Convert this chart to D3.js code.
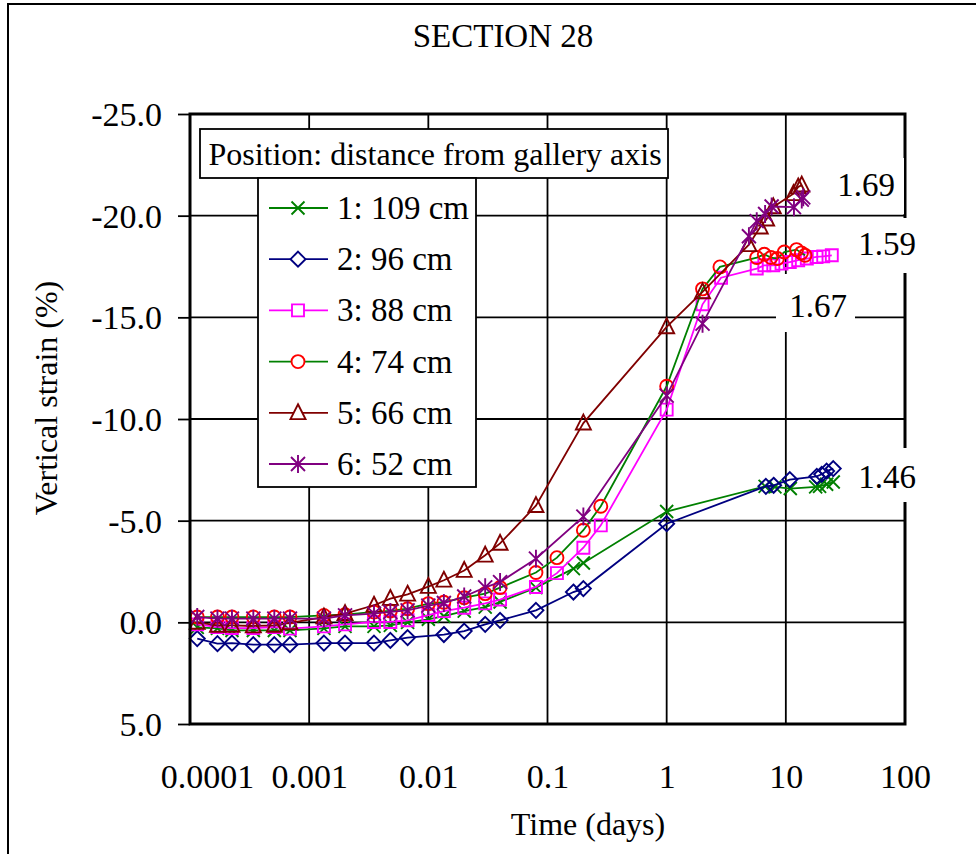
<!DOCTYPE html>
<html>
<head>
<meta charset="utf-8">
<script src="https://cdn.jsdelivr.net/npm/d3@7"></script>
<style>
  body { margin: 0; background: #fff; }
  svg { display: block; font-family: "Liberation Serif", "Times New Roman", serif; }
</style>
</head>
<body>
<svg width="976" height="854"></svg>
<script>
// --- data ---
const seriesNames = ['1: 109 cm', '2: 96 cm', '3: 88 cm', '4: 74 cm', '5: 66 cm', '6: 52 cm'];

const s1Time = [0.000115, 0.00017, 0.000225, 0.00034, 0.00051, 0.00069, 0.00133, 0.002, 0.0035, 0.0048, 0.0067,
  0.01, 0.0135, 0.02, 0.03, 0.04, 0.08, 0.165, 0.2, 1, 6.7, 8.1, 10.9, 17.8, 19.2, 22, 25];
const s1Strain = [0.25, 0.3, 0.4, 0.4, 0.4, 0.4, 0.3, 0.2, 0.2, 0.15, 0.0,
  -0.15, -0.3, -0.55, -0.75, -1.0, -1.71, -2.64, -2.92, -5.45, -6.69, -6.66, -6.58, -6.66, -6.69, -6.79, -6.9];

const s2Time = [0.000115, 0.00017, 0.000225, 0.00034, 0.00051, 0.00069, 0.00133, 0.002, 0.0035, 0.0048, 0.0067,
  0.0135, 0.02, 0.03, 0.04, 0.08, 0.165, 0.2, 1, 6.8, 7.9, 10.8, 18.2, 20, 22, 25];
const s2Strain = [0.8, 1.05, 1.02, 1.1, 1.1, 1.1, 1.02, 1.02, 1.02, 0.89, 0.75,
  0.6, 0.43, 0.1, -0.1, -0.59, -1.49, -1.66, -4.85, -6.69, -6.74, -7.02, -7.18, -7.28, -7.44, -7.56];

const s3Time = [0.000115, 0.00017, 0.000225, 0.00034, 0.00051, 0.00069, 0.00133, 0.002, 0.0035, 0.0048, 0.0067,
  0.01, 0.0135, 0.02, 0.03, 0.04, 0.08, 0.12, 0.2, 0.28, 1, 2, 2.86, 5.7, 6.6, 7.85, 9.2, 10.8, 12.7, 15, 18.1, 20.6, 24.3];
const s3Strain = [0.1, 0.23, 0.28, 0.28, 0.23, 0.31, 0.2, 0.1, -0.02, -0.02, -0.1,
  -0.36, -0.55, -0.72, -0.93, -1.12, -1.74, -2.42, -3.67, -4.77, -10.46, -15.64, -16.95, -17.4, -17.56, -17.56, -17.64, -17.72, -17.81, -17.89, -17.97, -18.0, -18.05];

const s4Time = [0.000115, 0.00017, 0.000225, 0.00034, 0.00051, 0.00069, 0.00133, 0.002, 0.0035, 0.0048, 0.0067,
  0.01, 0.0135, 0.02, 0.03, 0.04, 0.08, 0.12, 0.2, 0.28, 1, 2, 2.8, 5.7, 6.6, 7.5, 8.5, 9.7, 12.3, 13.5, 14.5];
const s4Strain = [-0.26, -0.26, -0.26, -0.26, -0.26, -0.26, -0.34, -0.38, -0.51, -0.56, -0.67,
  -0.92, -0.99, -1.21, -1.41, -1.71, -2.45, -3.18, -4.53, -5.71, -11.61, -16.4, -17.48, -17.94, -18.1, -17.94, -17.89, -18.21, -18.33, -18.17, -18.05];

const s5Time = [0.000115, 0.00017, 0.000225, 0.00034, 0.00051, 0.00069, 0.00133, 0.002, 0.0035, 0.0048, 0.0067,
  0.01, 0.0135, 0.02, 0.03, 0.04, 0.08, 0.2, 1, 2, 4.9, 6.1, 6.9, 7.85, 11.6, 12.7, 13.6];
const s5Strain = [0.0, 0.15, 0.15, 0.18, 0.15, 0.03, -0.26, -0.43, -0.84, -1.17, -1.38,
  -1.76, -2.07, -2.55, -3.3, -3.88, -5.74, -9.8, -14.53, -16.25, -18.57, -19.44, -19.83, -20.43, -21.08, -21.41, -21.5];

const s6Time = [0.000115, 0.00017, 0.000225, 0.00034, 0.00051, 0.00069, 0.00133, 0.002, 0.0035, 0.0048, 0.0067,
  0.01, 0.0135, 0.02, 0.03, 0.04, 0.08, 0.2, 1, 2, 4.9, 5.7, 6.7, 7.6, 11.7, 13.6, 14.0];
const s6Strain = [-0.26, -0.18, -0.18, -0.18, -0.18, -0.18, -0.18, -0.34, -0.43, -0.51, -0.59,
  -0.82, -0.95, -1.27, -1.72, -1.98, -3.13, -5.2, -11.15, -14.69, -18.99, -19.73, -20.08, -20.45, -20.42, -20.79, -20.9];

const xTicks = [0.0001, 0.001, 0.01, 0.1, 1, 10, 100];
const xTickLabels = ['0.0001', '0.001', '0.01', '0.1', '1', '10', '100'];
const yTicks = [-25, -20, -15, -10, -5, 0, 5];
const endLabels = ['1.69', '1.59', '1.67', '1.46'];

// --- styles ---
const lineColors = ['#008000', '#000080', '#ff00ff', '#008000', '#800000', '#800080'];
const markerColors = ['#008000', '#000080', '#ff00ff', '#ff0000', '#800000', '#800080'];
const markerShapes = ['x', 'diamond', 'square', 'circle', 'triangle', 'star'];

const times = [s1Time, s2Time, s3Time, s4Time, s5Time, s6Time];
const strains = [s1Strain, s2Strain, s3Strain, s4Strain, s5Strain, s6Strain];
const series = seriesNames.map((name, i) => ({
  name, i,
  points: times[i].map((t, k) => ({t, v: strains[i][k]}))
}));

const svg = d3.select('svg');
const pLeft = 190, pRight = 905, pTop = 114, pBottom = 724;

const x = d3.scaleLog().domain([1e-4, 100]).range([pLeft, pRight]);
const y = d3.scaleLinear().domain([-25, 5]).range([pTop, pBottom]);

function markerPath(shape) {
  switch (shape) {
    case 'x': { const s = 6.5; return `M${-s},${-s}L${s},${s}M${-s},${s}L${s},${-s}`; }
    case 'star': { const s = 7; return `M${-s},${-s}L${s},${s}M${-s},${s}L${s},${-s}M0,${-s - 2}L0,${s + 2}`; }
    case 'diamond': { const s = 7.5; return `M0,${-s}L${s},0L0,${s}L${-s},0Z`; }
    case 'square': { const s = 6; return `M${-s},${-s}H${s}V${s}H${-s}Z`; }
    case 'circle': { const r = 6.5; return `M${r},0A${r},${r} 0 1,1 ${-r},0A${r},${r} 0 1,1 ${r},0Z`; }
    case 'triangle': { const s = 7.5; return `M0,${-s - 1}L${s},${s * 0.85}L${-s},${s * 0.85}Z`; }
  }
}

// outer frame
svg.append('rect').attr('x', 8).attr('y', 4).attr('width', 1000).attr('height', 1000)
  .attr('fill', 'none').attr('stroke', '#000').attr('stroke-width', 2);

// title
svg.append('text').attr('x', 503).attr('y', 47).attr('text-anchor', 'middle')
  .attr('font-size', 33).text('SECTION 28');

// grid
const grid = svg.append('g').attr('stroke', '#000').attr('stroke-width', 1.8);
grid.selectAll('.vg').data(xTicks).enter().append('line')
  .attr('x1', d => x(d)).attr('x2', d => x(d)).attr('y1', pTop).attr('y2', pBottom);
grid.selectAll('.hg').data(yTicks).enter().append('line')
  .attr('x1', pLeft).attr('x2', pRight).attr('y1', d => y(d)).attr('y2', d => y(d));

// y axis
const yAxis = d3.axisLeft(y).tickValues(yTicks).tickSize(12).tickPadding(16)
  .tickFormat(d => d.toFixed(1));
const ya = svg.append('g').attr('transform', `translate(${pLeft},0)`).call(yAxis);
ya.select('.domain').remove();
ya.selectAll('line').attr('stroke', '#000').attr('stroke-width', 1.8);
ya.selectAll('text').attr('font-size', 34).attr('font-family', '"Liberation Serif", serif')
  .attr('fill', '#000').attr('dy', '0.34em');

// x axis (labels only)
const xAxis = d3.axisBottom(x).tickValues(xTicks).tickSize(0).tickPadding(0)
  .tickFormat((d, i) => xTickLabels[i]);
const xa = svg.append('g').attr('transform', `translate(0,${pBottom})`).call(xAxis);
xa.select('.domain').remove();
xa.selectAll('text').attr('font-size', 34).attr('font-family', '"Liberation Serif", serif')
  .attr('fill', '#000').attr('dy', null).attr('y', 64)
  .attr('dx', (d, i) => i === 0 ? 17 : 0);

// axis titles
svg.append('text').attr('x', 588).attr('y', 835).attr('text-anchor', 'middle')
  .attr('font-size', 32).text('Time (days)');
svg.append('text').attr('transform', 'translate(57,398) rotate(-90)').attr('text-anchor', 'middle')
  .attr('font-size', 32).text('Vertical strain (%)');

// series
const line = d3.line().x(d => x(d.t)).y(d => y(d.v));
const sg = svg.selectAll('.series').data(series).enter().append('g');
sg.append('path').attr('d', d => line(d.points)).attr('fill', 'none')
  .attr('stroke', d => lineColors[d.i]).attr('stroke-width', 1.8);
sg.each(function (s) {
  d3.select(this).selectAll('.m').data(s.points).enter().append('path')
    .attr('transform', d => `translate(${x(d.t)},${y(d.v)})`)
    .attr('d', markerPath(markerShapes[s.i]))
    .attr('fill', 'none').attr('stroke', markerColors[s.i]).attr('stroke-width', 1.9);
});

// plot border
svg.append('rect').attr('x', pLeft).attr('y', pTop).attr('width', pRight - pLeft).attr('height', pBottom - pTop)
  .attr('fill', 'none').attr('stroke', '#000').attr('stroke-width', 3);

// legend
const lg = svg.append('g');
lg.append('rect').attr('x', 200).attr('y', 129).attr('width', 468).attr('height', 49)
  .attr('fill', '#fff').attr('stroke', '#000').attr('stroke-width', 1.8);
lg.append('text').attr('x', 435).attr('y', 165).attr('text-anchor', 'middle')
  .attr('font-size', 32).text('Position: distance from gallery axis');
lg.append('rect').attr('x', 258).attr('y', 178).attr('width', 218).attr('height', 309)
  .attr('fill', '#fff').attr('stroke', '#000').attr('stroke-width', 1.8);
const le = lg.selectAll('.le').data(series).enter().append('g')
  .attr('transform', d => `translate(0,${208 + d.i * 51.2})`);
le.append('line').attr('x1', 269).attr('x2', 328).attr('stroke', d => lineColors[d.i]).attr('stroke-width', 1.8);
le.append('path').attr('transform', 'translate(298,0)').attr('d', d => markerPath(markerShapes[d.i]))
  .attr('fill', '#fff').attr('stroke', d => markerColors[d.i]).attr('stroke-width', 1.9);
le.append('text').attr('x', 337).attr('y', 11).attr('font-size', 33).text(d => d.name);

// end-value labels with white backgrounds
const labelBoxes = [
  {x: 826, y: 158, w: 78, h: 56, tx: 866, ty: 196},
  {x: 845, y: 218, w: 90, h: 55, tx: 887, ty: 255},
  {x: 776, y: 274, w: 79, h: 58, tx: 818, ty: 317},
  {x: 850, y: 448, w: 85, h: 54, tx: 887, ty: 488}
];
const lb = svg.selectAll('.lb').data(endLabels).enter().append('g');
lb.append('rect').attr('x', (d, i) => labelBoxes[i].x).attr('y', (d, i) => labelBoxes[i].y)
  .attr('width', (d, i) => labelBoxes[i].w).attr('height', (d, i) => labelBoxes[i].h).attr('fill', '#fff');
lb.append('text').attr('x', (d, i) => labelBoxes[i].tx).attr('y', (d, i) => labelBoxes[i].ty)
  .attr('text-anchor', 'middle').attr('font-size', 33).text(d => d);
</script>
</body>
</html>
